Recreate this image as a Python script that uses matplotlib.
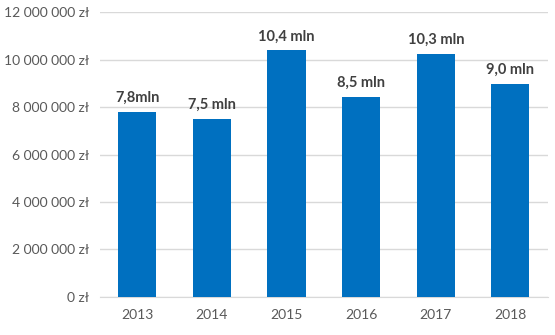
import matplotlib
matplotlib.use("Agg")
import matplotlib.pyplot as plt
from matplotlib.ticker import FuncFormatter

years = ["2013", "2014", "2015", "2016", "2017", "2018"]
values = [7_800_000, 7_500_000, 10_400_000, 8_450_000, 10_250_000, 9_000_000]
labels = ["7,8mln", "7,5 mln", "10,4 mln", "8,5 mln", "10,3 mln", "9,0 mln"]

plt.rcParams["font.family"] = ["Lato", "DejaVu Sans"]

fig = plt.figure(figsize=(5.55, 3.35), dpi=100)
ax = fig.add_axes([0.18, 0.1143, 0.807, 0.8484])

x = range(len(years))
bars = ax.bar(x, values, width=0.51, color="#0070C0", zorder=3)

for b, lab in zip(bars, labels):
    ax.annotate(lab, (b.get_x() + b.get_width() / 2, b.get_height()),
                xytext=(0, 5), textcoords="offset points",
                ha="center", va="bottom", fontsize=10.5, fontweight="bold",
                color="#404040")

ax.set_xlim(-0.5, len(years) - 0.5)
ax.set_ylim(0, 12_000_000)
ax.set_yticks(range(0, 12_000_001, 2_000_000))
ax.yaxis.set_major_formatter(FuncFormatter(
    lambda v, p: "{:,.0f} zł".format(v).replace(",", " ")))
ax.set_xticks(list(x))
ax.set_xticklabels(years)

ax.grid(axis="y", color="#D9D9D9", linewidth=1, zorder=0)
for s in ["top", "right", "left"]:
    ax.spines[s].set_visible(False)
ax.spines["bottom"].set_color("#D9D9D9")
ax.tick_params(axis="both", length=0, labelsize=10, colors="#595959", pad=8)
ax.tick_params(axis="x", pad=9)

fig.savefig("out.png", dpi=100)
